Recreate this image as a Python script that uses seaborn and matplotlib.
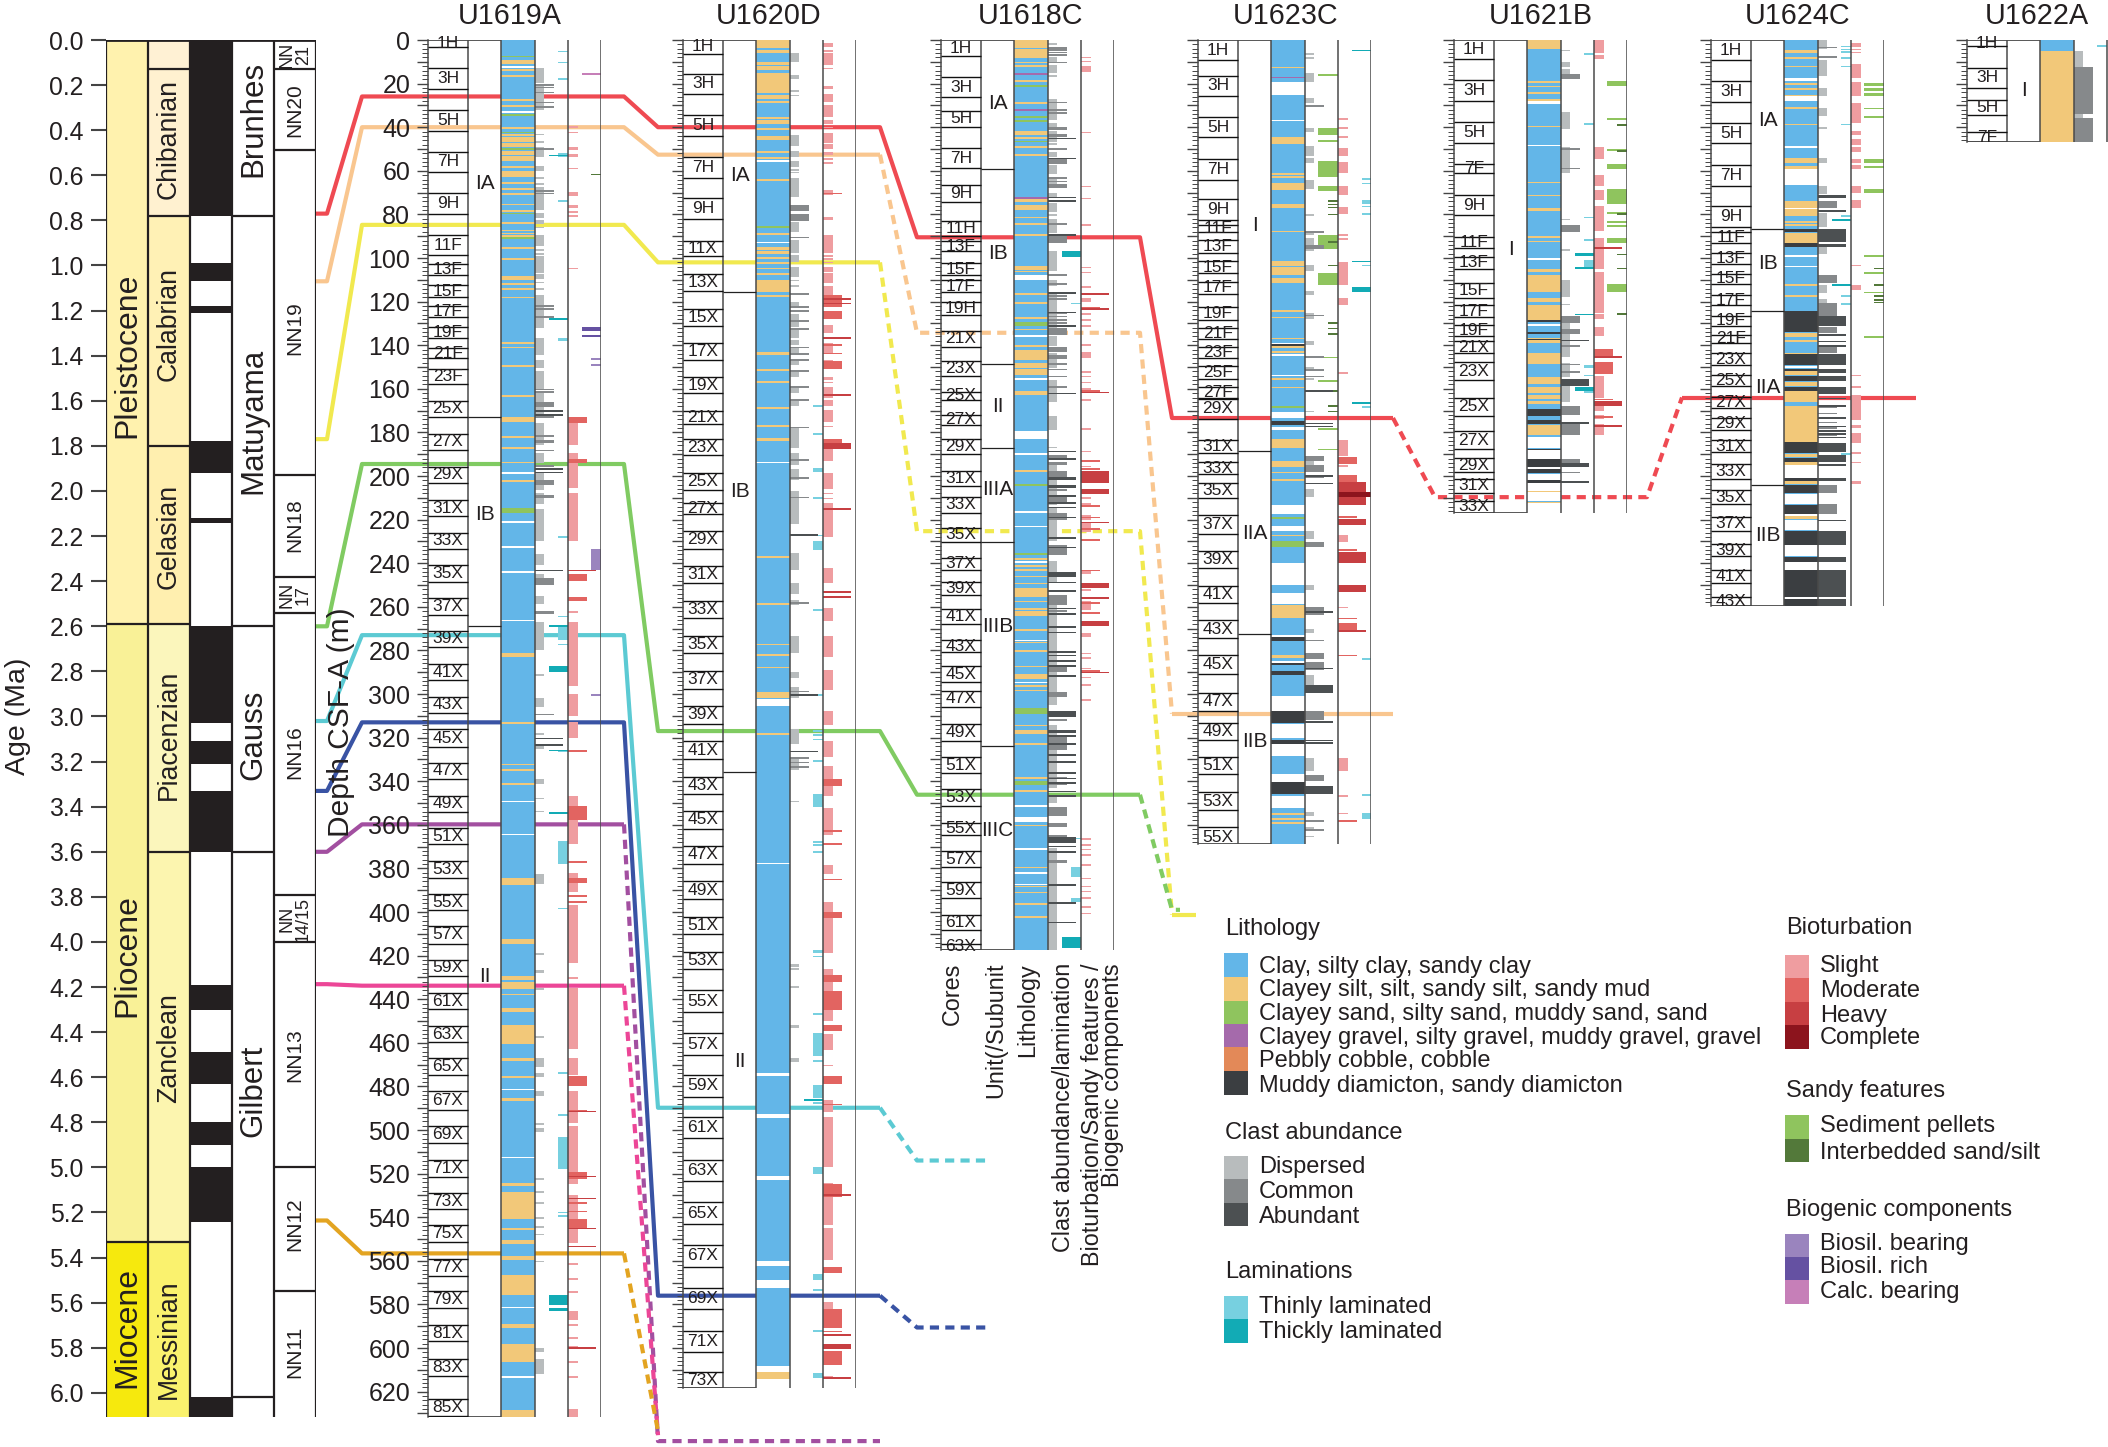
import matplotlib
matplotlib.use("Agg")
import matplotlib.pyplot as plt
import numpy as np
import seaborn as sns

W, H = 2108, 1447
TOP = 40          # pixel row of age 0 / depth 0
PX_PER_MA = 225.5
PX_PER_M = 2.18
AGE_BOTTOM = 6.107

# ---- age model columns
epoch_names = ['Pleistocene', 'Pliocene', 'Miocene']
epoch_tops = [0, 2.59, 5.33]
epoch_bases = [2.59, 5.33, 6.107]
epoch_mid = [1.40, 4.06, 5.71]
epoch_colors = ['#FFF2AE', '#F9F197', '#F6E90D']

stage_names = ['', 'Chibanian', 'Calabrian', 'Gelasian', 'Piacenzian', 'Zanclean', 'Messinian']
stage_tops = [0, 0.13, 0.78, 1.80, 2.59, 3.60, 5.33]
stage_bases = [0.13, 0.78, 1.80, 2.59, 3.60, 5.33, 6.107]
stage_mid = [0, 0.44, 1.26, 2.20, 3.08, 4.47, 5.76]
stage_colors = ['#FFF1D4', '#FFF1D0', '#FFF1B5', '#FFEFAF', '#FBF6BC', '#FCF5AF', '#FAF26E']

polarity_black = [(0, 0.78), (0.99, 1.07), (1.18, 1.21), (1.78, 1.92), (2.12, 2.14), (2.60, 3.03),
                  (3.11, 3.21), (3.33, 3.60), (4.19, 4.30), (4.49, 4.63), (4.80, 4.90), (5.00, 5.24),
                  (6.02, 6.107)]

chron_names = ['Brunhes', 'Matuyama', 'Gauss', 'Gilbert']
chron_bounds = [0.78, 2.60, 3.60, 6.02]
chron_mid = [0.35, 1.69, 3.08, 4.66]

nn_names = ['NN\n21', 'NN20', 'NN19', 'NN18', 'NN\n17', 'NN16', 'NN\n14/15', 'NN13', 'NN12', 'NN11']
nn_bounds = [0.13, 0.49, 1.93, 2.38, 2.54, 3.79, 4.00, 5.00, 5.55]
nn_mid = [0.065, 0.31, 1.28, 2.15, 2.46, 3.16, 3.90, 4.50, 5.25, 5.82]

# ---- site: U1619A
u1619_names = ['1H', '3H', '5H', '7H', '9H', '11F', '13F', '15F', '17F', '19F', '21F', '23F', '25X', '27X', '29X',
               '31X', '33X', '35X', '37X', '39X', '41X', '43X', '45X', '47X', '49X', '51X', '53X', '55X', '57X',
               '59X', '61X', '63X', '65X', '67X', '69X', '71X', '73X', '75X', '77X', '79X', '81X', '83X', '85X']
u1619_core_top = [0, 12.8, 32, 51.2, 70.1, 89.5, 102.7, 112.6, 122.1, 131.6, 141.3, 150.7, 165.5, 180.6, 196, 211,
                  226, 241, 256, 271, 286.3, 301.3, 316.2, 331.5, 346.6, 361.5, 376.6, 391.7, 406.6, 421.9, 437,
                  452.3, 467.2, 482, 498.3, 513.6, 528.9, 543.8, 559.1, 574, 589.5, 605, 623.6]
u1619_core_base = [3.4, 22.3, 41.7, 60.6, 80, 98.7, 108, 117.7, 127.2, 136.6, 145.9, 157.9, 172.8, 188, 203, 218.5,
                   233.5, 248.4, 263.8, 278.5, 293.7, 308.6, 324.2, 339.1, 354, 368.9, 384.2, 399.3, 414.5, 429.3,
                   444.7, 459.8, 474.7, 490.6, 506, 521.5, 536.4, 551.3, 566.8, 581.5, 597, 612.8, 631]
u1619_units = ['IA', 'IB', 'II']
u1619_unit_mid = [66, 217.5, 429.6]
u1619_unit_base = [173, 268.6]
u1619_silt = [(9.2, 11), 13.5, 16, 27.2, 29.8, 40, (43.2, 44), (44.7, 46.6), (47.4, 49.2), (51, 52.8), (53.2, 55.4), 58, (60, 63), 65.3, 68,
              (70, 71.3), 75, 78, 83.5, 87, 88.4, 89.5, 95, 100, (108.3, 110), 111.6, 113.8, 117.7, 138.7, 140.7, 149.2, 163, (173, 175),
              181.7, 186.8, (193.4, 194.2), 202, (281, 283), 313, 332, (334.3, 335.3), (340.6, 341.7), (384.2, 387.4), (412.3, 414.5),
              (429.3, 431), (432.3, 435.3), (437.4, 438.3), (444.2, 446), (451.7, 460.4), (466.8, 468.5), (475.1, 476.2),
              (485.3, 486.8), (524.2, 525.7), (528.5, 540.8), 545, (550.6, 552.3), (558, 559.8), (566.4, 575.7),
              (588.9, 591), (598, 606.6), (628.5, 631.7)]
u1619_sand = [7.2, 34, 42, 49.7, 79.2, 90.5, (214.7, 216.8)]
u1619_gap = [11.9, 32.6, 198.3, 220.6, 232.2, 243.8, 265.9, 349, 364, 481, (512.3, 513), 581, 613]
u1619_disp = [(13, 19.9), (20.6, 32.1), 43, 46.3, (49.2, 53.5), (58, 60), 63, 65.7, (67.3, 78), (79.5, 81.8), (82.5, 84.4), 85.6, (89.4, 94.5), 96,
              97.9, (99, 107), (107.2, 109.8), 110.9, 113.9, (117, 127), (127.7, 132.3), (136.9, 144.5), (146.8, 150.6), (152, 160.6),
              (161.3, 165.9), (168.2, 172.8), (175.8, 185.8), (189.6, 194.2), (198.5, 206.4), (208, 213), (215, 230), (236, 241), (245, 249),
              (255, 258.5), (267, 280), 291, (302, 306), 318, (323, 325), (339, 341.5), 347.5, 353.5, (382.5, 387), 419,
              (426.5, 428), 435, 457, (467, 471), (474, 475.5), (482, 484.5), 497, (499, 501), 522, 528, 533, 540, 544,
              547.5, 560, (600, 602), (605, 612)]
u1619_common = [20.3, 21.4, 23.7, 28.3, 30.3, 49.7, 68.8, 70, (121.6, 122.4), (123, 124), 126.6, (160, 160.6), 161, (166, 168.3), (172, 173.5),
                181.2, (183.5, 185), 188, 195, (201.8, 204), (208.7, 210), (247, 250), (262, 263.5), 309]
u1619_abund = [169.7, 171.7, 196.5, 198, 243, 320, 323]
u1619_thin = [4.9, 9.9, 17.6, (52, 53.5), 73.4, 127.7, (136.9, 138), 227.6, 264, (269, 275), 277, 325.7, 354, (367.6, 377.9), 398, 473.6, 492.8,
              (503.4, 517.9), 537.4, 539]
u1619_thick = [(268.5, 269.2), 52.6, 127.7, (287, 289.8), 325.5, 354.2, (575.7, 580.4), (581.7, 583.2)]
u1619_slight = [39.5, 42, (49, 50.5), (52.3, 53.8), 58.6, (69.6, 71.4), (75.7, 77.2), 78.4, 80.3, 104.4, (175.8, 185.8), (189.6, 205.7), (208, 230),
                262, (267, 296.4), (300, 310), (313, 320.4), (347, 369), (382, 390.6), (397, 423.6), 430, (435, 463), (467, 474.7), (482, 497),
                (498, 524.7), (530, 552), 561, 568, 574, (583, 587), 589, 595, 599, 606, 613, (627.9, 631.7)]
u1619_moderate = [(173, 175.5), (192.4, 194.2), (244.8, 248), (255.4, 257.5), 325.7, (351.3, 357.6), 376.8, (384.2, 386.8),
                  392.3, 395, (475.3, 480), 491, (519.3, 522.5), 533, 537, (540.6, 544.8)]
u1619_heavy = [243, 491.2, 521, 531, (545, 545.6), 553, 599.5]
u1619_biosil = [(146, 147), 148.6, (233.3, 243.2), 300]
u1619_rich = [(131.7, 133.4), 135.5]
u1619_calc = [15.3]
u1619_inter = [61.3]

# ---- site: U1620D
u1620_names = ['1H', '3H', '5H', '7H', '9H', '11X', '13X', '15X', '17X', '19X', '21X', '23X', '25X', '27X', '29X', '31X',
               '33X', '35X', '37X', '39X', '41X', '43X', '45X', '47X', '49X', '51X', '53X', '55X', '57X', '59X', '61X',
               '63X', '65X', '67X', '69X', '71X', '73X']
u1620_core_top = [0, 15.4, 34.3, 53.7, 72.6, 92, 107.4, 123.2, 139.2, 154.7, 170.1, 183.2, 198.5, 212.6, 225.3, 241.3,
                  257.5, 273.3, 289.5, 305.5, 321.7, 337.9, 353.8, 369.8, 385.9, 402.1, 418.3, 435.9, 455.7, 474.9,
                  494, 513.6, 533.2, 552.8, 572.5, 592.1, 611.1]
u1620_core_base = [6.3, 24.8, 44.2, 63.2, 82.3, 99.2, 115.2, 131.2, 147, 162.1, 176, 190.5, 206.3, 217.5, 233.3, 249,
                   265.3, 281.3, 297.5, 313.6, 329.8, 345.7, 361.7, 377.9, 394, 410.2, 426.2, 445.9, 465.5, 484.7,
                   503.8, 523.4, 543, 562.7, 582.3, 601.7, 618.3]
u1620_units = ['IA', 'IB', 'II']
u1620_unit_mid = [62.3, 207, 468.7]
u1620_unit_base = [115.4, 335.7]
u1620_silt = [(0, 3.8), (4.6, 6.1), (10, 11.5), (12, 13.8), (15, 24.5), (25.2, 27.2), (28, 29), 35.5, 36.7, 37.8, 40.5, 44, 45, 51, 53.8, 55, 63.8, 88.7,
              (95, 96.3), (97, 98), 99.7, (101.8, 102.6), 104.4, 107, (110, 115.8), 117, (143, 144.5), 151, 156.4, (168.2, 169.3), 176.6, (182.7, 184),
              236.8, 258.3, 277, 281.7, 287.4, (299, 302), 318, (611.1, 614)]
u1620_sand = [85.3]
u1620_gap = [55, 92.5, 193.4, (302.3, 305.5), 377.4, (474, 475), (484.2, 484.6), (492.7, 494.5), (521, 523), (560, 562.5),
             (569, 572.5), (608.3, 611), (614, 618.3)]
u1620_disp = [(6.1, 10), (16, 18), 23, 25, (43.6, 48.6), (51, 53.5), (55.4, 58.1), 59.3, 60.4, (63.2, 71.9), (83.3, 88), (91.7, 97.9), (98.6, 102), (104, 108.6),
              110, 112.4, (120, 123), (125.7, 131.5), (133, 136.9), (137.6, 140), (141.4, 144.5), (146.8, 149), (151.4, 154.4), (159, 162), (165, 168),
              (178, 187.3), (189.3, 195), (196.8, 201.8), (207, 211), (211, 222), (235.5, 243), (249, 254), (257, 259), (273.3, 281), (290, 292.5), (297, 302),
              (316, 323), (329, 335), 349, (424, 425), 425.8, (434, 434.7), (451.8, 453), 467, 468]
u1620_common = [(75.7, 78.4), 79.8, (80.7, 82.9), 90.2, 116.2, 122, 123.9, (128.4, 129.2), 132.3, 140.7, 143.7, 146.5, 151.4, 158.7, 164.7, 177.4, 192.4, 200.6,
                209.5, 258, 298.5, 329, 331, 333]
u1620_abund = [226.6, 300, 326]
u1620_thin = [167.5, 180.4, (196.5, 198), 209.7, 227, (230, 234), 261, 300, (316.6, 317.4), (318.5, 319.2), 320.5, 330.4,
              (346, 351.9), 367.6, 369, 372, (417.6, 418.8), 420, 446.4, (455.5, 466), 468, (479.3, 485.3), 487.3, (517.2, 520),
              (566, 568.7), 573, 591.7, (611.3, 613.6)]
u1620_thick = [486]
u1620_slight = [(1.5, 3), 4.6, (6.1, 11.5), 12.7, (21, 22.5), (24.8, 28.3), (29.8, 35.5), 36.7, 37.8, 39.8, (42.5, 47.4), (47.7, 50), (51.2, 52.8), 54.3, 56, (68.8, 71),
                (81, 82.6), (89.5, 97.6), 98.6, 100.2, 101.7, (104, 106.3), (107, 111.6), (113, 117), (118.5, 122.3), 124.6, (130.7, 134.6), (139, 143.7), 146.8,
                (154.8, 156), 156.8, (159, 164.4), (165, 167.7), (169.7, 175.4), 176.9, (183, 193), (198.8, 206), 207.6, 210, (212.6, 228),
                (242, 249), (260.6, 266.5), (273.3, 283.2), (289, 298), (308, 314), (321.5, 329), (333, 347), (352.3, 364.7),
                (378.3, 382.5), (395.5, 418.7), (426.2, 450.2), (455.9, 463.4), 470, (486.4, 491.7), (494, 517.2),
                (524.2, 543.4), (544.9, 559.8), (579, 582.1), 613]
u1620_moderate = [70, (117, 122.3), (124.3, 128), 139.6, 143.4, (147.1, 151), (183, 185), (339, 342), 362.5, 368.3, 384.7,
                  (400.2, 402.7), (429.1, 432.1), (436.4, 444.9), (451.7, 454.5), (475, 478.9), 488, (524.7, 530.6),
                  (563, 565.7), (582.1, 591), 592, (601.3, 607.6)]
u1620_heavy = [118.5, 120.5, 136.4, 162.5, (184.7, 187.8), 214.9, 252.8, 255, 529.3, 593.8, (598, 600.6), 613.5]

# ---- site: U1618C
u1618_names = ['1H', '3H', '5H', '7H', '9H', '11H', '13F', '15F', '17F', '19H', '21X', '23X', '25X', '27X', '29X', '31X', '33X',
               '35X', '37X', '39X', '41X', '43X', '45X', '47X', '49X', '51X', '53X', '55X', '57X', '59X', '61X', '63X']
u1618_core_top = [0, 17, 32.4, 49.5, 66.3, 83.2, 92, 102.1, 110.1, 120.4, 133.3, 147.4, 161.3, 172.2, 183.2, 197.5, 209.5,
                  223.8, 237.5, 248.4, 260.8, 275.4, 287.2, 298.5, 313.6, 328.9, 343.8, 359.1, 372.1, 386.4, 401.3, 414.5]
u1618_core_base = [7.4, 26.3, 39.8, 58.9, 74.5, 89.9, 97, 108, 115.6, 126.3, 140.6, 153.9, 165.3, 176.4, 190.1, 204.4, 216.8,
                   230.3, 243, 254.7, 268, 280.6, 294.7, 305.9, 321.5, 336.4, 351.5, 364.5, 379.3, 393.8, 408.1, 417.6]
u1618_units = ['IA', 'IB', 'II', 'IIIA', 'IIIB', 'IIIC']
u1618_unit_mid = [29, 98, 168, 206, 269, 362.5]
u1618_unit_base = [59.2, 148.6, 187.2, 230.3, 323.9]
u1618_silt = [(0, 3.8), (4.3, 8.3), (9.9, 10.6), (11.5, 12.2), 18.3, 28.6, 41.6, (42.3, 43.5), (44.5, 45.5), 48.6, (52.2, 53), (73, 74.5), (75.5, 78), (81, 81.8),
              84, 89, (103.5, 105.5), 105.8, 116, 120.3, (127, 128), 132.5, 140, (142.2, 147), (148.3, 150.6), (151, 153.7), (161, 163), 197.4, 237.8, 241, 242.6,
              (245.7, 246.4), 249, (251.5, 255.5), 257.2, 260.7, (262, 264.2), 270.3, 276, 280, 287, (290.8, 293), 296, 298, 314, (316.5, 318.3), 322.7,
              338.2, 344, 360, 379.2, 388, 390.7, 396, (401.8, 402.8)]
u1618_sand = [20.6, 34.9, 36.8, 46.2, (129.5, 131), 203.7, 235.5, (306.6, 309.3), 340, 341]
u1618_gravel = [15.3, 31.6, 72.2]
u1618_gap = [(108, 110), 135.3, 155.2, (179.4, 183), 189.6, 216, 222.8, 239, 275, 294.3, 351, (356.3, 358.9), 370.8, 381.8, 387]
u1618_disp = [1.5, (7.6, 10.2), (11.5, 15.3), 16.2, (27.2, 36.7), (38, 40), (41.6, 46.6), 47.4, (51.2, 53.5), (57.3, 61.6), (62.7, 68), (70.3, 71.9), (74.6, 78.7),
              79.8, (82, 88.7), (96.6, 105.8), (110, 113), (116, 135.3), (135.8, 140.2), (143.7, 150.6), (156, 165.9), (172.5, 178.9), 186.5, (194, 199), (202, 211),
              (211, 213.5), (214.8, 229.7), (238.8, 248.5), (254.6, 294.3), (294.3, 305), (314, 326.4), (326.4, 343.3), (347, 350), (370.8, 418)]
u1618_common = [3.4, 4.3, 5.4, 6.6, 10, 28.3, 31.6, 33.2, (40, 41.5), (43.3, 44.3), 49.7, (54.6, 56.9), 63, 64.5, 66, 67, 73.4, 84, (89, 93), 107.3, 111.6, 117, 118.5,
                125, 126.5, 128, 129.5, 131, (132.3, 135.3), (140.7, 143), (144.5, 146.3), 148.3, 150.8, 154, 158.7, (190.4, 191.9), (193.4, 195), (197.5, 200.3), 206,
                (209.5, 211.8), (217, 220), (231.6, 236.2), (254.6, 259), 261.5, (287.5, 289.8), (298.9, 301.2), 311.5, (319.6, 325.7), 338, 341, (351.7, 355.8),
                (359.3, 360.8), 364.7, (376, 377.7)]
u1618_abund = [44.8, 54, 71.9, 73.4, 89, 115.8, (124.6, 125.4), 130.7, 161.8, 188.4, 191.9, (200.3, 201.8), (204, 205.7), 208.7, 212, 214, 218.6, 228, (232.4, 233.2),
               (243.9, 246.5), 248.5, 252.3, 260.4, 263, 269, 271.4, 280.3, 282, 284.4, 286.7, (291.3, 292.4), (307.8, 310.4), (316.5, 317.9), 318.8, 322.6, 327.7,
               (330.7, 331.6), 335.9, 338.4, 340.5, 344.3, 346.3, (365.7, 368.5), 369.6, 372, 387.3, 395.6, 404.4]
u1618_thin = [120.5, 365.9, (379.2, 383.8), (393.7, 395.6)]
u1618_thick = [(97, 99.4), (411.3, 416.6)]
u1618_slight = [7.6, 9.5, (12, 14.5), 42, 66.8, 72.3, 84.4, 104, 106.3, 113, (118.5, 120), 125.4, 128, 130.7, 139.6, (143, 146), 151.8, 154, 156.7, 159.8, 164.8, 178, 188.4,
                195.3, 209.5, 210, 212.5, (217.9, 220), (221.7, 225.5), (243.6, 245), 252, (257.3, 261.4), 262.5, (272.2, 274), 281, 283.2, 288, 292, 295.6, 302.3,
                366.2, 369, 371, 373.5, 378, 384.2, 388, 390.2, 393.3, 397.2, 400.3]
u1618_moderate = [116, 122.3, 160.5, 192.7, 196.5, 213.3, 218.6, 224, 229, 243, 258, 262.5, 289]
u1618_heavy = [116.2, 123.1, 161.3, (197.5, 203.4), (205.8, 208.2), 221, (249.2, 251.5), 255.6, (266.5, 268.6), 289.7]

# ---- site: U1623C
u1623_names = ['1H', '3H', '5H', '7H', '9H', '11F', '13F', '15F', '17F', '19F', '21F', '23F', '25F', '27F', '29X', '31X', '33X',
               '35X', '37X', '39X', '41X', '43X', '45X', '47X', '49X', '51X', '53X', '55X']
u1623_core_top = [0, 16.4, 35.3, 54.7, 72.8, 84.9, 91.9, 101.5, 111.1, 122.7, 132, 140.8, 149.6, 159.2, 164.5, 183.6, 193.7,
                  203.3, 217.9, 234.3, 250.4, 266.2, 282.1, 299.5, 313.1, 328.7, 345.1, 361.2]
u1623_core_base = [9.3, 25.7, 44.6, 64, 82.4, 87.9, 97.5, 106.8, 116.4, 128.5, 137.3, 145.8, 155.4, 164, 173.8, 189.4, 199.2,
                   210, 226.5, 242.3, 258.2, 274.3, 290.9, 307.8, 321.2, 336.8, 353.2, 370.8]
u1623_units = ['I', 'IIA', 'IIB']
u1623_unit_mid = [84.9, 226.5, 321.7]
u1623_unit_base = [188.7, 272.5]
u1623_silt = [12.3, (44.6, 47.6), 61, 62.5, (65.5, 69), (75, 77), 87.5, (101.3, 103.5), (104, 107.6), (109.3, 111.3), 124, 127, 136.5,
              (140.3, 141.5), 142.8, 155, 159, (183, 187), (193.2, 195.7), 198, 201.5, 227, (259.4, 265), (281.9, 283.4),
              (354.4, 355.5), 357, 358.8]
u1623_sand = [(229.7, 232.7), 168, 219]
u1623_gravel = [16.9]
u1623_gap = [(19.4, 25.2), 36.5, 139, 144, 153.6, (170.5, 173.5), (177.5, 179), (213.4, 217.6), (222.9, 225.4), (239.8, 249.9),
             (253.7, 258.7), 273, 285, (301, 307.8), (313.6, 320.4), (323, 328.5), (336.8, 340.5), (346.8, 352.4)]
u1623_diam = [(174.6, 176.6), 139.5, (273.8, 275.8), 286, (289.4, 291.4), (308, 313.1), (321, 323), (340.5, 346)]
u1623_disp = [6, 8, (15, 19.4), (26.4, 29), 30, (40.3, 42), (48.4, 53.4), (54, 56.5), (64, 68.5), 80, 88.5, (91, 97), (103, 106), (115, 117),
              (125, 128), (138, 140), 145, 150, 155, 170, (192, 196), (205.8, 209.6), (225, 229), (249.9, 252.4), (270, 272), (291.4, 295.7),
              (329.2, 335.5), (354, 356), 361, 365, 369]
u1623_common = [(87.5, 88.7), (94, 96), 30, 126, 145, 151, 154, (191, 193), (195, 198), 200, (230.5, 232.7), (260, 263.7), 275,
                (281, 284), (285.5, 289), (308, 312), (337, 340), 358, 362]
u1623_abund = [160.5, 175.6, 177, 199.5, 203, 262, 288, (296, 299.5), 312.5, 321, 322, (342, 346)]
u1623_pellet = [15.6, (40.3, 43.8), 46, (55.4, 62.7), (66.8, 69.3), (89.4, 95.7), (106.8, 112.6), 145.3, 156, 178, 187.4]
u1623_inter = [73.5, 75, 76.5, 79.6, 92.4, 103, 129.5, 132, 134.5, 160.5, 167.5, 170]
u1623_thin = [63.5, 65.5, (73.5, 75), 76, 79.5, 103, 168, 283.5, 346, (354.4, 357.4)]
u1623_thick = [4.5, 101.3, (113.3, 115.4), 166]
u1623_slight = [35.8, 40, 44, (49.6, 53), (56, 61), (66.8, 71), (76.6, 80), 89, 91, (102, 112.6), (118.4, 121.7), 152.5, (183.6, 190.7),
                195, 201, (227, 230.5), 260, (329.2, 335.5), 346.5, 354.5]
u1623_moderate = [(191.4, 194.7), (199.5, 202.8), 218.4, 233.5, 265, (267.5, 271.3), 282, 358]
u1623_heavy = [(202.8, 207.6), (209.6, 213.4), (219.6, 222.7), (234.8, 239.8), (250.1, 253.2), 270.8]
u1623_complete = [(207.3, 209.6)]

# ---- site: U1621B
u1621_names = ['1H', '3H', '5H', '7F', '9H', '11F', '13F', '15F', '17F', '19F', '21X', '23X', '25X', '27X', '29X', '31X', '33X']
u1621_core_top = [0, 18.4, 37.5, 56.7, 71, 90.4, 99.5, 111.3, 121.7, 130.9, 138.3, 147.9, 164.2, 179.3, 191.9, 201.5, 211.3]
u1621_core_base = [8.8, 28, 47.1, 61.2, 80.4, 95.5, 105, 118.4, 127, 135.8, 143.6, 155.9, 172.3, 187.7, 198.2, 207.6, 217.1]
u1621_units = ['I']
u1621_unit_mid = [96.2]
u1621_unit_base = []
u1621_silt = [(0, 4.3), 19, 21, 24, (27, 28.2), 39.3, 65, 71, (77, 78.5), 90, 92, (105, 106.5), (107.6, 115.6), (118.5, 120), (121.4, 128.5),
              (136.5, 139), (143.6, 148.4), (154.7, 158), (159.2, 162), (163, 164.5), (165.5, 166.8), (176.8, 181.4), 207, 212]
u1621_gap = [(28.2, 29.5), 48, 100, 130.5, (182, 187), (188.2, 192), (195.7, 197), (199, 202), (203.3, 207), (207.5, 211.5), (212.5, 217.1)]
u1621_diam = [(128.5, 129.2), 134, 137, (169.3, 172.3), (174.3, 176), 187.5, (192, 195.7), (197, 198.5), (202, 203.3)]
u1621_disp = [4.5, (10, 12.5), (13.5, 16), (33, 41), (49.1, 55.9), (56, 61), 82, 96, (110, 118), 121, (126.5, 145.3), (148, 154.5), (158, 166), (175, 179)]
u1621_common = [(15.6, 18.1), 49.5, 58.5, (84.9, 87.9), (126.5, 130), (132.5, 135), 140, 148.5, 152, (168, 171.9), (175.6, 181.1), (192.4, 195.7), 198]
u1621_abund = [137.5, (155.4, 158.7), 175.3, (194, 195.7), 202.5]
u1621_thin = [6, 38.3, 81, 91.5, (101, 104), (149, 150.5), 153.5, (160, 162)]
u1621_thick = [(97.5, 99.2), 104.3, 125.5, (159.2, 161)]
u1621_slight = [(0, 6), (7, 8.6), (49, 54.7), (61.7, 66.8), (68.6, 73.6), (76, 81), (81, 87.4), (91, 95), (96, 105), (106.3, 125.2), (125.8, 128), (131.5, 136),
                (154, 164.2), (168, 170), (172, 174), (176, 181.4)]
u1621_moderate = [(141.6, 145.3), (147.9, 153), 164.5, (172.5, 173.5)]
u1621_heavy = [95, 145, (165.5, 168), 176.8]
u1621_pellet = [(18.9, 21.2), 35.8, 50, (56.7, 59.2), (68.5, 75.3), 79, 83, 85, (91, 93), (112, 115.6)]
u1621_inter = [38.5, 50.5, 79.5, 98, 104.5, 125.4]

# ---- site: U1624C
u1624_names = ['1H', '3H', '5H', '7H', '9H', '11F', '13F', '15F', '17F', '19F', '21F', '23X', '25X', '27X', '29X', '31X', '33X',
               '35X', '37X', '39X', '41X', '43X']
u1624_core_top = [0, 18.7, 38, 57.2, 76.2, 88, 97.8, 107.2, 117, 126.4, 135.2, 143.7, 153.7, 163.6, 173.4, 183.7, 194.6, 206.5,
                  219, 231, 243.3, 255.5]
u1624_core_base = [9.3, 28.3, 47.4, 66.8, 86, 93.1, 102.9, 111.9, 121.7, 131.1, 139.1, 149, 158.7, 168.7, 178.7, 188.8, 201.2,
                   212.8, 225, 236.9, 249.1, 259.8]
u1624_units = ['IA', 'IB', 'IIA', 'IIB']
u1624_unit_mid = [37.1, 102.5, 159.3, 227.3]
u1624_unit_base = [86.5, 124.5, 204]
u1624_silt = [(4.6, 6.1), (7.6, 8.9), 11.7, (19.6, 20.8), 22, 25, 30.9, 38.4, (54, 56.3), (57.8, 59.1), (73.8, 80.9), 83, 84.5, (88.4, 92.9), 111.9, 117,
              (134.3, 136.2), 137.7, 143.7, (151.8, 153.6), (157, 158.7), (161.2, 165.9), (167.7, 184.3), (190, 191.5), (193.7, 195), (202.5, 203.8),
              (218.5, 219.8)]
u1624_gap = [(17.4, 18.7), (25.8, 28), 48.6, (59.1, 66.6), 77, 98.6, 103.5, 149.5, (195, 200.8), (208.2, 212.8), (217.6, 218.4), (220, 225), (231.7, 236.9),
             (239.5, 243), (255.7, 256.6)]
u1624_diam = [(86.5, 88), (92.9, 95), (124.5, 126.4), (126.8, 133.9), (144.2, 149.3), 151, (154, 156.5), (159, 161.2), (184.3, 189.3), (191.8, 193.5),
              (200.8, 202.5), (204, 207.8), (213.2, 217.5), (225, 231.7), (237.2, 239.5), (243.3, 255.7), (256.6, 259.5)]
u1624_disp = [(0, 4), (9, 16.5), (22, 25.5), (31, 35), 40, (54, 56.3), (67, 70.5), (79.4, 86), (94.4, 98.2), (112.3, 116), (119, 122)]
u1624_common = [3, 7.5, (73.8, 77.1), 92, (107.6, 111.3), (120.8, 126.4), (131.5, 134.3), (140.5, 143.7), 168, 171, 175, 177.5, 181, 192, (204, 207.8), (212.9, 217.5)]
u1624_abund = [(71, 72.5), 78, (86.9, 92.6), (93.5, 94.8), (126.8, 131.1), 135, 138, 140, (144.2, 149.3), (151, 152.8), (154, 156.5), (159, 162.5), 164, 167.5,
               173, 177, 179, 180.5, 182, (184.7, 189), (190.5, 193.5), 194.5, (200.8, 202.5), 220, (225, 231.7), (237.2, 239.5), (243.3, 255.7), (256.6, 259.5)]
u1624_thin = [(2.7, 3.3), 4, 5.2, 8, 11.7, 38.4, 80.5, 117, 120.8, 189.5]
u1624_thick = [82, 82.5, 111.9]
u1624_slight = [(1.4, 3), 4, 5.4, (10.8, 17.4), (19.3, 25.8), (28.7, 38), (41.8, 43.8), (45.2, 48), (49, 51.6), (54.5, 56.3), (57.2, 59), (67.2, 70.4), (73.4, 77),
                (112.5, 114.7), 103, 153.5, 158.7, (162.7, 174.3), (176.8, 178), (180.2, 185), 189, 193.5, (202.5, 203.8)]
u1624_pellet = [(19.8, 21), (22, 23.5), (24.5, 25.8), 31, 35, (54.5, 56.3), (57.8, 58.7), (68.5, 70.4), 98.6, 106.5, 115.5, 136]
u1624_inter = [104.5, 112, (117, 118), 119, 120]

# ---- site: U1622A
u1622_names = ['1H', '3H', '5H', '7F']
u1622_core_top = [0, 12.7, 27.7, 42.2]
u1622_core_base = [2.9, 22, 34.5, 46.9]
u1622_units = ['I']
u1622_unit_mid = [23]
u1622_unit_base = []
u1622_silt = [(5.1, 46.9)]
u1622_disp = [(5.1, 12.3), (33.9, 35.8)]
u1622_common = [(12.3, 33.9), (35.8, 46.9)]
u1622_thin = [2.3]

# ---- ties between holes
tie_colors = ['#EF4A52', '#F9C68F', '#F1E94F', '#80CB62', '#5CCAD3', '#3953A4', '#A24FA0', '#EC4697', '#E3A421']
tie_ages = [0.77, 1.07, 1.77, 2.60, 3.02, 3.33, 3.60, 4.187, 5.235]
tie_depths = [[25.9, 40, 90.5, 173.4, 209.7, 164],
              [40, 52.6, 134.3, 309],
              [84.8, 102, 225.3, 401.3],
              [194.5, 317, 346.2, 399],
              [273, 489.8, 514],
              [313, 576, 590.6],
              [359.8, 642.7],
              [433.8, 640],
              [556.6, 638]]
tie_dashed_from = [[4, 5], [2, 2], [2, 3], [3, 3], [2, 2], [2, 2], [1, 1], [1, 1], [1, 1]]
tie_end_x = [1916, 1393, 1196, 1180, 988, 990, 880, 658, 655]

# ---- legend
lith_labels = ['Clay, silty clay, sandy clay', 'Clayey silt, silt, sandy silt, sandy mud', 'Clayey sand, silty sand, muddy sand, sand',
               'Clayey gravel, silty gravel, muddy gravel, gravel', 'Pebbly cobble, cobble', 'Muddy diamicton, sandy diamicton']
lith_colors = ['#63B6E8', '#F2C879', '#8FC45E', '#A56AAB', '#E38958', '#3B3E41']
clast_labels = ['Dispersed', 'Common', 'Abundant']
clast_colors = ['#B8BCBD', '#86898B', '#4C5052']
lam_labels = ['Thinly laminated', 'Thickly laminated']
lam_colors = ['#77D0E0', '#12ABB5']
bio_labels = ['Slight', 'Moderate', 'Heavy', 'Complete']
bio_colors = ['#EF9DA0', '#E26461', '#C73F42', '#8C141D']
sandy_labels = ['Sediment pellets', 'Interbedded sand/silt']
sandy_colors = ['#8FC45E', '#53793A']
biogenic_labels = ['Biosil. bearing', 'Biosil. rich', 'Calc. bearing']
biogenic_colors = ['#9A84BE', '#6551A2', '#C67FB8']
column_titles = ['Cores', 'Unit(/Subunit', 'Lithology', 'Clast abundance/lamination', 'Bioturbation/Sandy features /', 'Biogenic components']

sns.set_theme(style="white")
plt.rcParams['font.family'] = ['Liberation Sans', 'DejaVu Sans']
plt.rcParams['text.color'] = '#231F20'
plt.rcParams['xtick.color'] = '#231F20'
plt.rcParams['ytick.color'] = '#231F20'

fig = plt.figure(figsize=(W / 100, H / 100), dpi=100)
fig.patch.set_facecolor('white')


def add_axes(x0, x1, top, bottom, z):
    ax = fig.add_axes([x0 / W, 1 - bottom / H, (x1 - x0) / W, (bottom - top) / H], zorder=z)
    ax.patch.set_visible(False)
    return ax


def spans(ivs, thin=0.75):
    # a bare number is a bed too thin to read a base for
    tops = [v[0] if isinstance(v, tuple) else v for v in ivs]
    sizes = [v[1] - v[0] if isinstance(v, tuple) else thin for v in ivs]
    return tops, sizes


def beds(ax, ivs, left, width, color, z=3):
    if not ivs:
        return
    tops, sizes = spans(ivs)
    ax.barh(tops, width, height=sizes, left=left, align='edge', color=color, linewidth=0, zorder=z)


# ---- correlation lines sit under the hole columns
lines_ax = add_axes(0, W, 0, H, 1)
hole_in = [362, 658, 917, 1172, 1435, 1682]
hole_out = [624, 880, 1140, 1393, 1647, 1916]
for c, age, depths, dash, end_x in zip(tie_colors, tie_ages, tie_depths, tie_dashed_from, tie_end_x):
    age_d = age * PX_PER_MA / PX_PER_M
    xs = [316, 327]
    ys = [age_d, age_d]
    flags = [False, False]
    for i, d in enumerate(depths):
        xs.append(hole_in[i]); ys.append(d); flags.append(i >= dash[0])
        out = hole_out[i] if i < len(depths) - 1 else end_x
        xs.append(out); ys.append(d); flags.append(i >= dash[0] and i < dash[1] + (i == dash[0] == dash[1]))
    # split in runs of the same style
    start = 0
    for j in range(1, len(xs)):
        if j == len(xs) - 1 or flags[j + 1] != flags[j]:
            dashed = flags[j]
            sns.lineplot(x=xs[start:j + 1], y=ys[start:j + 1], sort=False, estimator=None, errorbar=None,
                         color=c, linewidth=3.0, ax=lines_ax, solid_capstyle='butt', dash_capstyle='butt',
                         linestyle=(0, (2.2, 1.5)) if dashed else '-')
            start = j
lines_ax.set_xlim(0, W)
lines_ax.set_ylim((H - TOP) / PX_PER_M, -TOP / PX_PER_M)
lines_ax.axis('off')

# ---- age columns
age_ax = add_axes(106, 316, TOP, 1417, 4)
age_ax.set_xlim(0, 5)
age_ax.set_ylim(AGE_BOTTOM, 0)
dark = '#231F20'
age_ax.barh(epoch_tops, 1, height=np.subtract(epoch_bases, epoch_tops), left=0, align='edge', color=epoch_colors, linewidth=0)
age_ax.barh(stage_tops, 1, height=np.subtract(stage_bases, stage_tops), left=1, align='edge', color=stage_colors, linewidth=0)
age_tops, age_sizes = spans(polarity_black)
age_ax.barh(age_tops, 1, height=age_sizes, left=2, align='edge', color=dark, linewidth=0)
age_ax.vlines([0, 1, 2, 3, 4, 5], 0, AGE_BOTTOM, color=dark, linewidth=1.6, zorder=5)
age_ax.hlines(0, 0, 5, color=dark, linewidth=2, zorder=5)
age_ax.hlines(epoch_tops[1:], 0, 1, color=dark, linewidth=1.6, zorder=5)
age_ax.hlines(stage_tops[1:], 1, 2, color=dark, linewidth=1.6, zorder=5)
age_ax.hlines(chron_bounds, 3, 4, color=dark, linewidth=1.6, zorder=5)
age_ax.hlines(nn_bounds, 4, 5, color=dark, linewidth=1.6, zorder=5)
for name, m in zip(epoch_names, epoch_mid):
    age_ax.text(0.5, m, name, rotation=90, ha='center', va='center', fontsize=23, zorder=6)
for name, m in zip(stage_names, stage_mid):
    age_ax.text(1.5, m, name, rotation=90, ha='center', va='center', fontsize=19.2, zorder=6)
for name, m in zip(chron_names, chron_mid):
    age_ax.text(3.5, m, name, rotation=90, ha='center', va='center', fontsize=22.5, zorder=6)
for name, m in zip(nn_names, nn_mid):
    two = '\n' in name
    age_ax.text(4.5, m, name, rotation=90, ha='center', va='center', fontsize=13 if two else 15,
                linespacing=0.95, zorder=6)
age_ax.set_yticks(np.arange(0, 6.01, 0.2))
age_ax.set_yticklabels([f'{v:.1f}' for v in np.arange(0, 6.01, 0.2)])
age_ax.set_xticks([])
age_ax.tick_params(axis='y', left=True, direction='out', length=10.5, width=1.5, pad=5.5, labelsize=17.8, color='#444444')
sns.despine(ax=age_ax, top=True, right=True, bottom=True, left=True)


# ---- hole columns
def draw_hole(left, bottom_m, names, core_top, core_base, units, unit_mid, unit_base, silt=(), sand=(), gravel=(), gap=(),
              diam=(), disp=(), common=(), abund=(), thin=(), thick=(), slight=(), moderate=(), heavy=(), complete=(),
              pellet=(), inter=(), biosil=(), rich=(), calc=(), lam_col=3, sand_col=4, label_ticks=False):
    ax = add_axes(left, left + 5.2 * 33.3, TOP, TOP + bottom_m * PX_PER_M, 3)
    ax.set_xlim(0, 5.2)
    ax.set_ylim(bottom_m, 0)
    cores_r, unit_r, lith_r, clast_r, bio_r = 1.2, 2.2, 3.2, 4.2, 5.2
    col_right = {3: clast_r, 4: bio_r}

    ax.barh([0], 1, height=[bottom_m], left=unit_r, align='edge', color=lith_colors[0], linewidth=0, zorder=2)
    beds(ax, list(silt), unit_r, 1, lith_colors[1])
    beds(ax, list(sand), unit_r, 1, lith_colors[2])
    beds(ax, list(gravel), unit_r, 1, lith_colors[3])
    beds(ax, list(gap), unit_r, 1, 'white')
    beds(ax, list(diam), unit_r, 1, lith_colors[5])

    beds(ax, list(disp), lith_r, 0.29, clast_colors[0])
    beds(ax, list(common), lith_r, 0.57, clast_colors[1], z=4)
    beds(ax, list(abund), lith_r, 0.86, clast_colors[2], z=5)
    r = col_right[lam_col]
    beds(ax, list(thin), r - 0.29, 0.29, lam_colors[0])
    beds(ax, list(thick), r - 0.57, 0.57, lam_colors[1], z=4)

    beds(ax, list(slight), clast_r, 0.29, bio_colors[0])
    beds(ax, list(moderate), clast_r, 0.57, bio_colors[1], z=4)
    beds(ax, list(heavy), clast_r, 0.86, bio_colors[2], z=5)
    beds(ax, list(complete), clast_r, 1.0, bio_colors[3], z=6)
    r = col_right[sand_col]
    beds(ax, list(pellet), r - 0.6, 0.6, sandy_colors[0])
    beds(ax, list(inter), r - 0.3, 0.3, sandy_colors[1], z=4)
    beds(ax, list(biosil), bio_r - 0.3, 0.3, biogenic_colors[0])
    beds(ax, list(rich), bio_r - 0.57, 0.57, biogenic_colors[1])
    beds(ax, list(calc), bio_r - 0.57, 0.57, biogenic_colors[2])

    ax.vlines([cores_r, unit_r, lith_r, clast_r, bio_r], 0, bottom_m, color='#4A4A4A', linewidth=1.1, zorder=7)
    ax.hlines([0, bottom_m], 0, unit_r, color='#4A4A4A', linewidth=1.3, zorder=7)
    ax.hlines(list(core_top[1:]) + list(core_base), 0, cores_r, color='#111111', linewidth=1.0, zorder=7)
    ax.hlines(unit_base, cores_r, unit_r, color='#222222', linewidth=0.9, zorder=7)
    for name, t, b in zip(names, core_top, core_base):
        ax.text(cores_r / 2, (t + b) / 2, name, ha='center', va='center', fontsize=12.5, zorder=8)
    for name, m in zip(units, unit_mid):
        ax.text((cores_r + unit_r) / 2, m, name, ha='center', va='center', fontsize=15, zorder=8)

    major = np.arange(0, bottom_m + 0.01, 10)
    ax.set_yticks(major)
    ax.set_yticks(np.arange(0, bottom_m + 0.01, 2), minor=True)
    ax.set_xticks([])
    if label_ticks:
        ax.set_yticklabels([str(int(v)) if v % 20 == 0 else '' for v in major])
    else:
        ax.set_yticklabels([])
    ax.tick_params(axis='y', which='major', left=True, direction='out', length=7.8, width=1.0, pad=5, labelsize=18, color='#444444')
    ax.tick_params(axis='y', which='minor', left=True, direction='out', length=4.3, width=0.7, color='#444444')
    sns.despine(ax=ax, top=True, right=True, bottom=True, left=False)
    ax.spines['left'].set_color('#4A4A4A')
    ax.spines['left'].set_linewidth(1.1)
    return ax


draw_hole(428, 631.7, u1619_names, u1619_core_top, u1619_core_base, u1619_units, u1619_unit_mid, u1619_unit_base,
          silt=u1619_silt, sand=u1619_sand, gap=u1619_gap, disp=u1619_disp, common=u1619_common, abund=u1619_abund,
          thin=u1619_thin, thick=u1619_thick, slight=u1619_slight, moderate=u1619_moderate, heavy=u1619_heavy,
          biosil=u1619_biosil, rich=u1619_rich, calc=u1619_calc, inter=u1619_inter, label_ticks=True)
draw_hole(683, 618.3, u1620_names, u1620_core_top, u1620_core_base, u1620_units, u1620_unit_mid, u1620_unit_base,
          silt=u1620_silt, sand=u1620_sand, gap=u1620_gap, disp=u1620_disp, common=u1620_common, abund=u1620_abund,
          thin=u1620_thin, thick=u1620_thick, slight=u1620_slight, moderate=u1620_moderate, heavy=u1620_heavy)
draw_hole(941, 417.6, u1618_names, u1618_core_top, u1618_core_base, u1618_units, u1618_unit_mid, u1618_unit_base,
          silt=u1618_silt, sand=u1618_sand, gravel=u1618_gravel, gap=u1618_gap, disp=u1618_disp, common=u1618_common,
          abund=u1618_abund, thin=u1618_thin, thick=u1618_thick, slight=u1618_slight, moderate=u1618_moderate,
          heavy=u1618_heavy)
draw_hole(1198, 369, u1623_names, u1623_core_top, u1623_core_base, u1623_units, u1623_unit_mid, u1623_unit_base,
          silt=u1623_silt, sand=u1623_sand, gravel=u1623_gravel, gap=u1623_gap, diam=u1623_diam, disp=u1623_disp,
          common=u1623_common, abund=u1623_abund, thin=u1623_thin, thick=u1623_thick, slight=u1623_slight,
          moderate=u1623_moderate, heavy=u1623_heavy, complete=u1623_complete, pellet=u1623_pellet, inter=u1623_inter,
          lam_col=4, sand_col=3)
draw_hole(1454, 217.1, u1621_names, u1621_core_top, u1621_core_base, u1621_units, u1621_unit_mid, u1621_unit_base,
          silt=u1621_silt, gap=u1621_gap, diam=u1621_diam, disp=u1621_disp, common=u1621_common, abund=u1621_abund,
          thin=u1621_thin, thick=u1621_thick, slight=u1621_slight, moderate=u1621_moderate, heavy=u1621_heavy,
          pellet=u1621_pellet, inter=u1621_inter)
draw_hole(1711, 259.8, u1624_names, u1624_core_top, u1624_core_base, u1624_units, u1624_unit_mid, u1624_unit_base,
          silt=u1624_silt, gap=u1624_gap, diam=u1624_diam, disp=u1624_disp, common=u1624_common, abund=u1624_abund,
          thin=u1624_thin, thick=u1624_thick, slight=u1624_slight, pellet=u1624_pellet, inter=u1624_inter)
draw_hole(1967, 46.9, u1622_names, u1622_core_top, u1622_core_base, u1622_units, u1622_unit_mid, u1622_unit_base,
          silt=u1622_silt, disp=u1622_disp, common=u1622_common, thin=u1622_thin)

# ---- free text and legend, in figure pixels
canvas = add_axes(0, W, 0, H, 9)
canvas.set_xlim(0, W)
canvas.set_ylim(H, 0)
canvas.axis('off')

for name, x in zip(['U1619A', 'U1620D', 'U1618C', 'U1623C', 'U1621B', 'U1624C', 'U1622A'],
                   [510, 769, 1031, 1286, 1541, 1798, 2037]):
    canvas.text(x, 16, name, ha='center', va='center', fontsize=20.7)
canvas.text(18, 716, 'Age (Ma)', rotation=90, ha='center', va='center', fontsize=20.5)
canvas.text(341, 722, 'Depth CSF-A (m)', rotation=90, ha='center', va='center', fontsize=21.5)
for name, x in zip(column_titles, [952, 996, 1027.5, 1064, 1092, 1113]):
    canvas.text(x, 963, name, rotation=90, ha='center', va='top', fontsize=16.8)


def legend_block(x, title, title_y, labels, colors, swatch_y, text_y, row=23.7):
    canvas.text(x, title_y, title, ha='left', va='center', fontsize=17)
    canvas.barh(swatch_y, 24, height=row, left=x - 1, align='edge', color=colors, linewidth=0)
    for label, y in zip(labels, text_y):
        canvas.text(x + 34, y, label, ha='left', va='center', fontsize=17)


legend_block(1225, 'Lithology', 929, lith_labels, lith_colors, [953.4, 977, 1000.7, 1024, 1047.2, 1070.8],
             [966.5, 990, 1014, 1038, 1061.5, 1086])
legend_block(1225, 'Clast abundance', 1133, clast_labels, clast_colors, [1155.8, 1179, 1202.6], [1167, 1192, 1217])
legend_block(1225, 'Laminations', 1272, lam_labels, lam_colors, [1295.8, 1319], [1307, 1332])
legend_block(1786, 'Bioturbation', 928, bio_labels, bio_colors, [954.5, 978, 1002, 1025], [966, 991, 1016, 1038])
legend_block(1786, 'Sandy features', 1091, sandy_labels, sandy_colors, [1115, 1138.6], [1126, 1153])
legend_block(1786, 'Biogenic components', 1210, biogenic_labels, biogenic_colors, [1233.5, 1256.7, 1280], [1244, 1267, 1292])

fig.savefig('out.png', dpi=100)
